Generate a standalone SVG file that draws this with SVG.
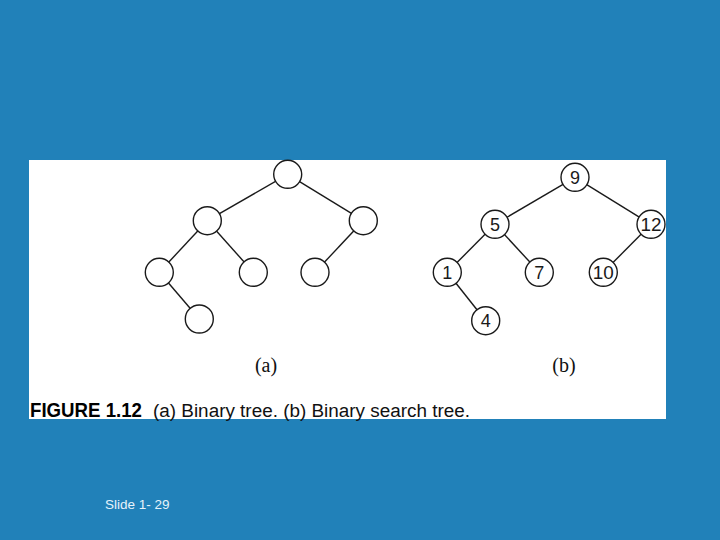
<svg xmlns="http://www.w3.org/2000/svg" width="720" height="540" viewBox="0 0 720 540">
<style>
.n{fill:#fff;stroke:#1a1a1a;stroke-width:1.4}
.e{stroke:#1a1a1a;stroke-width:1.4;fill:none}
.d{font-family:"Liberation Sans",Arial,sans-serif;font-size:18px;fill:#1a1a1a;text-anchor:middle}
.s{font-family:"Liberation Serif","Times New Roman",serif;font-size:20px;fill:#111;text-anchor:middle}
</style>
<rect width="720" height="540" fill="#2181b9"/>
<rect x="29" y="160" width="637" height="259" fill="#fff"/>
<g id="connectors">
<line class="e" x1="287.7" y1="174.3" x2="207.3" y2="220.7"/>
<line class="e" x1="287.7" y1="174.3" x2="363.3" y2="220.7"/>
<line class="e" x1="207.3" y1="220.7" x2="159.3" y2="272.3"/>
<line class="e" x1="207.3" y1="220.7" x2="253.3" y2="272.3"/>
<line class="e" x1="363.3" y1="220.7" x2="315" y2="272.3"/>
<line class="e" x1="159.3" y1="272.3" x2="199.3" y2="319"/>
<line class="e" x1="575" y1="177.3" x2="495" y2="224.3"/>
<line class="e" x1="575" y1="177.3" x2="651" y2="224.3"/>
<line class="e" x1="495" y1="224.3" x2="447.3" y2="272.3"/>
<line class="e" x1="495" y1="224.3" x2="539.3" y2="272.3"/>
<line class="e" x1="651" y1="224.3" x2="603.3" y2="272.3"/>
<line class="e" x1="447.3" y1="272.3" x2="485.7" y2="320.7"/>
</g>
<g id="a-root"><circle class="n" cx="287.7" cy="174.3" r="14"/></g>
<g id="a-l"><circle class="n" cx="207.3" cy="220.7" r="14"/></g>
<g id="a-r"><circle class="n" cx="363.3" cy="220.7" r="14"/></g>
<g id="a-ll"><circle class="n" cx="159.3" cy="272.3" r="14"/></g>
<g id="a-lr"><circle class="n" cx="253.3" cy="272.3" r="14"/></g>
<g id="a-rl"><circle class="n" cx="315" cy="272.3" r="14"/></g>
<g id="a-llr"><circle class="n" cx="199.3" cy="319" r="14"/></g>
<g id="b-9"><circle class="n" cx="575" cy="177.3" r="14"/><text class="d" x="575" y="183.8">9</text></g>
<g id="b-5"><circle class="n" cx="495" cy="224.3" r="14"/><text class="d" x="495" y="230.8">5</text></g>
<g id="b-12"><circle class="n" cx="651" cy="224.3" r="14"/><text class="d" x="651" y="230.8" textLength="21" lengthAdjust="spacingAndGlyphs">12</text></g>
<g id="b-1"><circle class="n" cx="447.3" cy="272.3" r="14"/><text class="d" x="447.3" y="278.8">1</text></g>
<g id="b-7"><circle class="n" cx="539.3" cy="272.3" r="14"/><text class="d" x="539.3" y="278.8">7</text></g>
<g id="b-10"><circle class="n" cx="603.3" cy="272.3" r="14"/><text class="d" x="603.3" y="278.8" textLength="21" lengthAdjust="spacingAndGlyphs">10</text></g>
<g id="b-4"><circle class="n" cx="485.7" cy="320.7" r="14"/><text class="d" x="485.7" y="327.2">4</text></g>
<text class="s" x="266" y="372">(a)</text>
<text class="s" x="564" y="372">(b)</text>
<text x="30" y="416.5" font-family="'Liberation Sans',Arial,sans-serif" font-size="20" font-weight="bold" fill="#000" textLength="112" lengthAdjust="spacingAndGlyphs">FIGURE 1.12</text>
<text x="153" y="416.5" font-family="'Liberation Sans',Arial,sans-serif" font-size="18" fill="#111" textLength="317" lengthAdjust="spacingAndGlyphs">(a) Binary tree. (b) Binary search tree.</text>
<text x="105" y="508.5" font-family="'Liberation Sans',Arial,sans-serif" font-size="13.5" fill="#e6f3fb">Slide 1- 29</text>
</svg>
